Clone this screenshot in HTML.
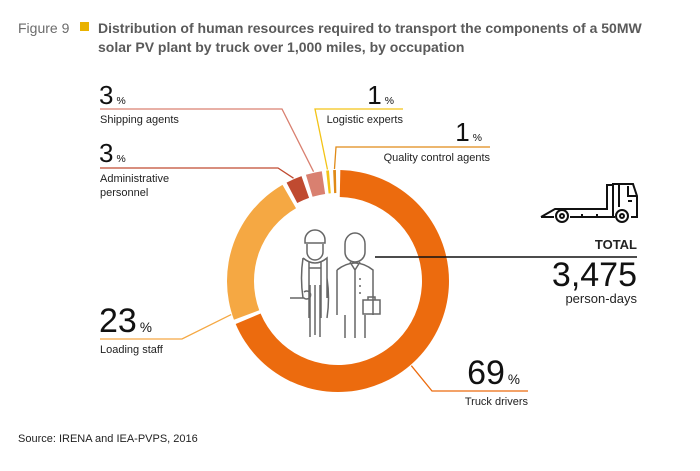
<!DOCTYPE html>
<html><head><meta charset="utf-8"><style>
body{margin:0;background:#fff;}
svg{display:block;font-family:"Liberation Sans",sans-serif;}
</style></head><body>
<svg width="700" height="471" viewBox="0 0 700 471">
<text x="18" y="33" font-size="14" fill="#6b6b6b">Figure 9</text>
<rect x="80" y="22" width="9" height="9" fill="#e9b200"/>
<text x="98" y="33" font-size="14" font-weight="bold" fill="#5a5a5a">Distribution of human resources required to transport the components of a 50MW</text>
<text x="98" y="52" font-size="14" font-weight="bold" fill="#5a5a5a">solar PV plant by truck over 1,000 miles, by occupation</text>
<g id="donut"></g>
<g id="labels"></g>
<g fill="none" stroke="#666" stroke-width="1.5">
<path d="M305 240 a10 10 0 0 1 20 0 v3 h-20z"/>
<path d="M307 244 v8 a8 8 0 0 0 16 0 v-8"/>
<path d="M303 258 q12 10 24 0 v20 q3 20 0 40 M303 258 q-3 20 0 40 M309 262 v56 M321 262 v56 M309 268 h12 M315 285 v50 M310 285 v52 M320 285 v52 M327 278 v20"/>
<path d="M290 298 h14 a4 4 0 1 0 0 -6"/>
<path d="M345 244 a10 11 0 0 1 20 0 v8 a10 10 0 0 1 -20 0z"/>
<path d="M337 270 q18 -14 36 0 v45 M337 270 v45 M350 262 l5 8 l5 -8 M355 270 v30 M345 315 v23 M365 315 v23 M355 300 v38 M360 278 v2 M360 285 v2 M360 292 v2"/>
<rect x="363" y="300" width="17" height="14"/><path d="M368 300 v-3 h7 v3"/>
</g>
<g fill="none" stroke="#111" stroke-width="2">
<path d="M541 217 l14 -8 h52 v-24 h6 v24"/>
<path d="M541 217 h13 M570 217 h45"/>
<path d="M613 217 V184 h20 l4 12 v21 h-6"/>
<path d="M619 185 v22 M628 186 v10 h8 M628 201 h4"/>
<path d="M582 214 v3 M597 214 v3"/>
<circle cx="562" cy="216" r="6"/><circle cx="562" cy="216" r="2"/>
<circle cx="622" cy="216" r="6"/><circle cx="622" cy="216" r="2"/>
</g>
<line x1="375" y1="257" x2="637" y2="257" stroke="#111" stroke-width="1.5"/>
<text x="637" y="249" font-size="13" font-weight="bold" text-anchor="end" fill="#222">TOTAL</text>
<text x="637" y="286" font-size="34" text-anchor="end" fill="#111">3,475</text>
<text x="637" y="303" font-size="13" text-anchor="end" fill="#222">person-days</text>
<text x="18" y="442" font-size="11" fill="#222">Source: IRENA and IEA-PVPS, 2016</text>
<script>
const categories=["Truck drivers","Loading staff","Administrative personnel","Shipping agents","Logistic experts","Quality control agents"];
const values=[69,23,3,3,1,1];
const colors=["#ec6b0e","#f5a843","#c04a30","#d98070","#f3c316","#e08a17"];
const NS="http://www.w3.org/2000/svg";
const cx=338,cy=281,ro=111,ri=84;
const total=values.reduce((a,b)=>a+b,0);
function pt(a,r){const t=a*Math.PI/180;return [cx+r*Math.sin(t),cy-r*Math.cos(t)];}
const g=document.getElementById('donut');
let acc=0;const starts=[],ends=[];
values.forEach((v,i)=>{
  const a0=acc/total*360,a1=(acc+v)/total*360;acc+=v;
  starts.push(a0);ends.push(a1);
  const gap=Math.min(1.2,(a1-a0)*0.3);
  const s=a0+gap,e=a1-gap,lg=(e-s)>180?1:0;
  const rin=v<5?ri+4:ri;
  const p1=pt(s,ro),p2=pt(e,ro),p3=pt(e,rin),p4=pt(s,rin);
  const p=document.createElementNS(NS,'path');
  p.setAttribute('d',`M${p1[0]} ${p1[1]} A${ro} ${ro} 0 ${lg} 1 ${p2[0]} ${p2[1]} L${p3[0]} ${p3[1]} A${rin} ${rin} 0 ${lg} 0 ${p4[0]} ${p4[1]}Z`);
  p.setAttribute('fill',colors[i]);
  
  
  g.appendChild(p);
});
// layout: [numX, numY, anchor, lineY, lineX1, lineX2, elbowX, labelLines, size, attachFraction]
const layout=[
 [520,384,'end',391,432,528,432,["Truck drivers"],34,0.56],
 [99,332,'start',339,100,182,182,["Loading staff"],34,0.05],
 [99,162,'start',168,100,278,278,["Administrative","personnel"],26,0.5],
 [99,104,'start',109,100,282,282,["Shipping agents"],26,0.5],
 [394,104,'end',109,315,403,315,["Logistic experts"],26,0.5],
 [482,141,'end',147,336,490,336,["Quality control agents"],26,0.5]
];
const L=document.getElementById('labels');
function mk(tag,attrs,txt){const e=document.createElementNS(NS,tag);for(const k in attrs)e.setAttribute(k,attrs[k]);if(txt)e.textContent=txt;L.appendChild(e);return e;}
layout.forEach((c,i)=>{
  const [nx,ny,anc,ly,x1,x2,ex,lines,fs,f]=c;
  const t=mk('text',{x:nx,y:ny,'font-size':fs,'text-anchor':anc,fill:'#111'});
  t.textContent=values[i];
  const ts=document.createElementNS(NS,'tspan');ts.setAttribute('font-size',fs*0.4);ts.setAttribute('dx','3');ts.textContent='%';t.appendChild(ts);
  
  
  const ang=starts[i]+(ends[i]-starts[i])*f;
  const ep=pt(ang,ro+1);
  const pl=mk('polyline',{points:`${x1===ex?x2:x1} ${ly} ${ex} ${ly} ${ep[0]} ${ep[1]}`,fill:'none',stroke:colors[i],'stroke-width':1.3});
  
  
  lines.forEach((ln,j)=>{
    const lt=mk('text',{x:anc==='end'?x2:100,y:ly+14+j*14,'font-size':11,'text-anchor':anc,fill:'#222'},ln);
    
    
  });
});
</script>
</svg>
</body></html>
